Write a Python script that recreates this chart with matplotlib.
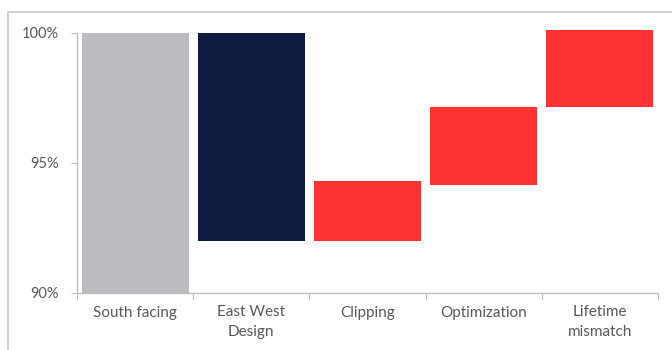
import matplotlib
matplotlib.use("Agg")
import matplotlib.pyplot as plt
from matplotlib.patches import Rectangle
import numpy as np

categories = ["South facing", "East West\nDesign", "Clipping", "Optimization", "Lifetime\nmismatch"]
bar_bottom = [90.0, 92.0, 92.0, 94.15, 97.15]
bar_top = [100.0, 100.0, 94.3, 97.15, 100.12]
bar_colors = ["#BBBCBF", "#0F1B40", "#FF3333", "#FF3333", "#FF3333"]
y_ticks = [90, 95, 100]

plt.rcParams["font.family"] = ["Lato", "DejaVu Sans"]

fig = plt.figure(figsize=(6.72, 3.5), dpi=100)
fig.patches.append(Rectangle((8 / 672, -0.1), 1.0, 1.1 - 12 / 350,
                             transform=fig.transFigure, fill=False,
                             edgecolor="#C8C8C8", linewidth=1.2))
ax = fig.add_axes([77 / 672, 1 - 293 / 350, 581 / 672, (293 - 27.8) / 350])

x = np.arange(len(categories)) + 0.5
heights = np.array(bar_top) - np.array(bar_bottom)
ax.bar(x, heights, bottom=bar_bottom, width=0.92, color=bar_colors, linewidth=0)

ax.set_xlim(0, len(categories))
ax.set_ylim(90, 100.2)
ax.set_yticks(y_ticks)
ax.set_yticklabels([f"{t}%" for t in y_ticks])
ax.set_xticks(np.arange(len(categories) + 1))
ax.set_xticklabels([])
ax.set_xticks(x, minor=True)
ax.set_xticklabels(categories, minor=True, linespacing=1.5)

grey = "#BFBFBF"
txt = "#595959"
for side in ["top", "right"]:
    ax.spines[side].set_visible(False)
for side in ["left", "bottom"]:
    ax.spines[side].set_color(grey)
    ax.spines[side].set_linewidth(1.0)
ax.spines["left"].set_bounds(90, 100)
ax.tick_params(axis="y", which="major", length=4, color=grey, labelcolor=txt,
               labelsize=10.5, pad=9)
ax.tick_params(axis="x", which="major", length=5, color=grey, direction="out")
ax.tick_params(axis="x", which="minor", length=0, labelcolor=txt,
               labelsize=11, pad=9)

fig.savefig("out.png", dpi=100)
